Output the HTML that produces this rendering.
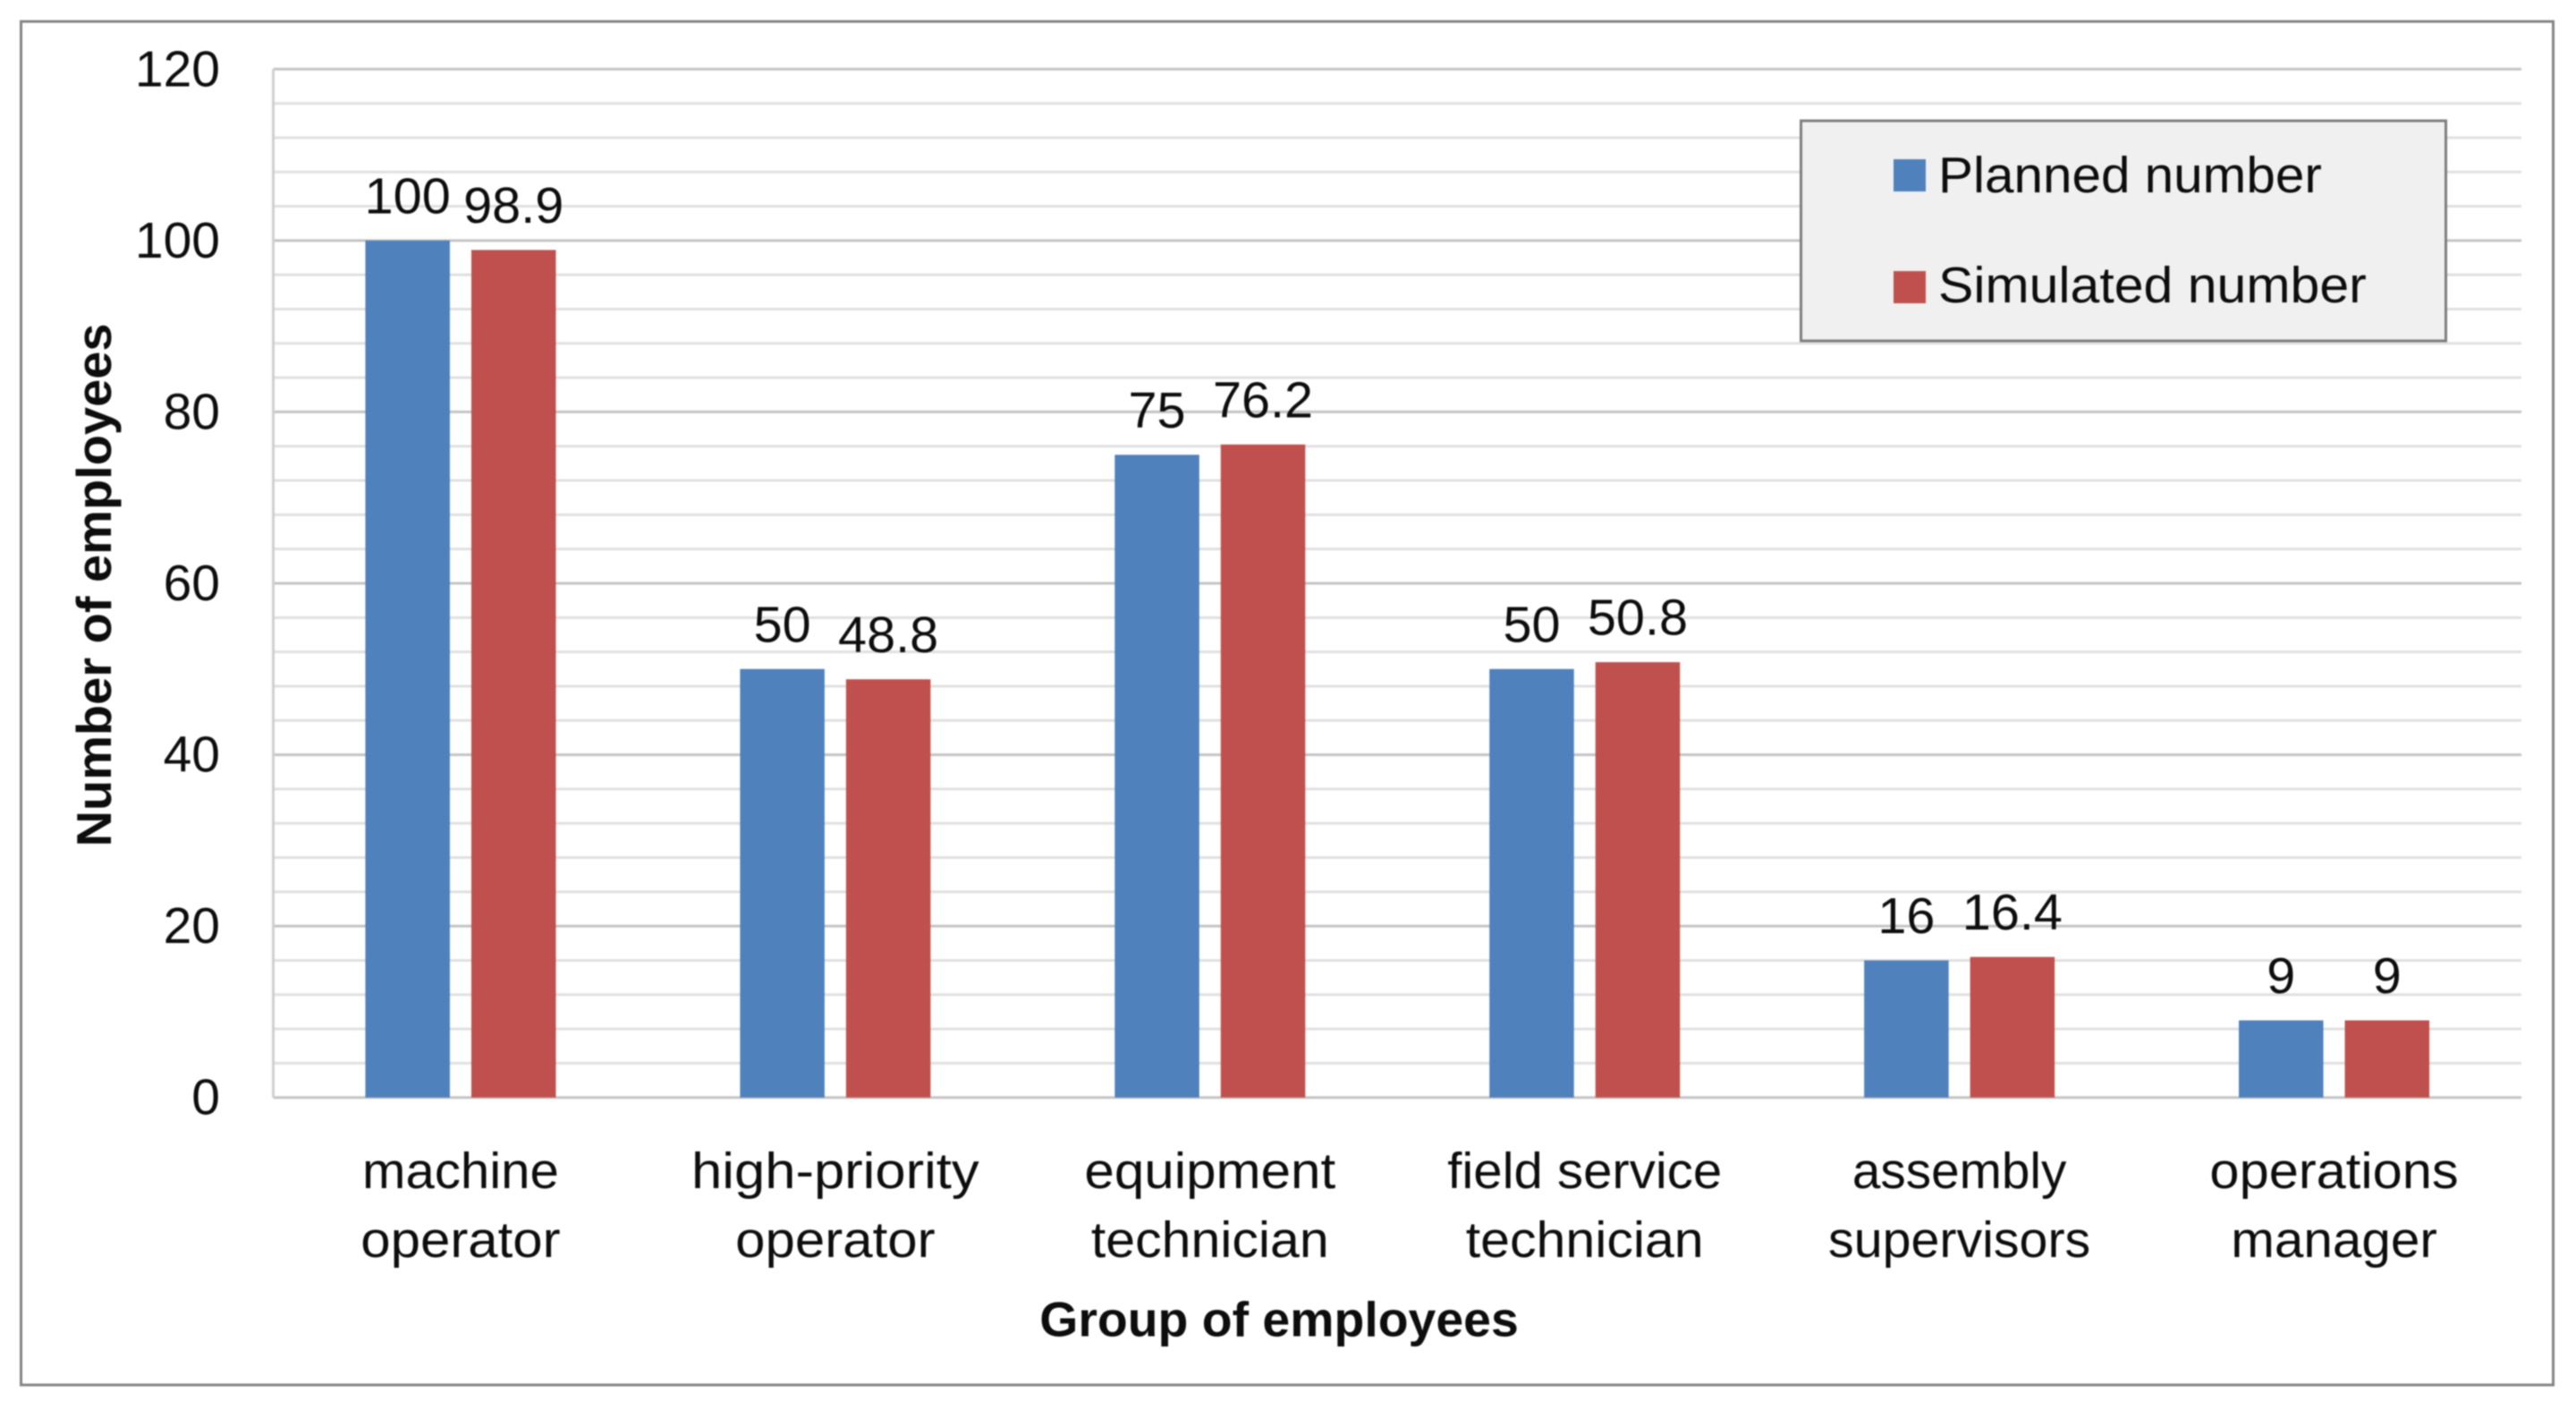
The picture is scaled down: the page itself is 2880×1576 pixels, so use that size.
<!DOCTYPE html>
<html lang="en">
<head>
<meta charset="utf-8">
<title>Planned and simulated number of employees</title>
<style>
html,body{margin:0;padding:0;background:#fff;width:2880px;height:1576px;overflow:hidden}
svg{display:block;filter:blur(0.9px)}
text{font-family:"Liberation Sans",sans-serif;fill:#0d0d0d}
</style>
</head>
<body>
<svg id="chart" xmlns="http://www.w3.org/2000/svg" width="2880" height="1576" viewBox="0 0 2880 1576">
  <rect x="23.5" y="24" width="2831" height="1524" fill="#fff" stroke="#858585" stroke-width="3"/>
</svg>
<script>
const categories = [["machine","operator"],["high-priority","operator"],["equipment","technician"],["field service","technician"],["assembly","supervisors"],["operations","manager"]];
const seriesNames = ["Planned number","Simulated number"];
const planned = [100,50,75,50,16,9];
const simulated = [98.9,48.8,76.2,50.8,16.4,9];
const yTicks = [0,20,40,60,80,100,120];
const yMinorTicks = [4,8,12,16,24,28,32,36,44,48,52,56,64,68,72,76,84,88,92,96,104,108,112,116];
const yMax = 120;

const svg = document.getElementById('chart');
const NS = 'http://www.w3.org/2000/svg';
const plotL = 305.5, plotR = 2819, plotT = 77.3, plotB = 1226.7;
const fs = 57;
const colors = ['#4f81bd','#c0504d'];
const labelStretch = {"machine":1.02,"operator":1.052,"high-priority":1.08,"equipment":1.055,"technician":1.036,"field service":1.02,"assembly":0.995,"supervisors":1.006,"operations":1.045,"manager":1.025};
const yScale = v => plotB - (v / yMax) * (plotB - plotT);
const bandW = (plotR - plotL) / categories.length;
const xCenter = i => plotL + bandW * (i + 0.5);

function make(tag, attrs, content) {
  const el = document.createElementNS(NS, tag);
  for (const k in attrs) el.setAttribute(k, attrs[k]);
  if (content !== undefined) el.textContent = content;
  svg.appendChild(el);
  return el;
}
function fit(el, factor) {
  el.setAttribute('textLength', (el.getComputedTextLength() * factor).toFixed(1));
  el.setAttribute('lengthAdjust', 'spacingAndGlyphs');
}

yMinorTicks.forEach(v => {
  const g = make('line', {x1: plotL, x2: plotR, y1: yScale(v), y2: yScale(v), stroke: '#e0e0e0', 'stroke-width': 3});
  
  
});
yTicks.forEach(v => {
  const g = make('line', {x1: plotL, x2: plotR, y1: yScale(v), y2: yScale(v), stroke: '#c4c4c4', 'stroke-width': 3});
  
  
  const t = make('text', {x: 246, y: yScale(v) + 19, 'text-anchor': 'end', 'font-size': fs}, String(v));
  
  
  fit(t, 1.0);
});
const yAxis = make('line', {x1: plotL, x2: plotL, y1: plotT, y2: plotB, stroke: '#cfcfcf', 'stroke-width': 3});



const barW = 94.5, barOffset = 12;
[planned, simulated].forEach((series, s) => {
  series.forEach((v, i) => {
    const x = s === 0 ? xCenter(i) - barOffset - barW : xCenter(i) + barOffset;
    const r = make('rect', {x: x, y: yScale(v), width: barW, height: plotB - yScale(v), fill: colors[s]});
    
    
    const t = make('text', {x: x + barW / 2, y: yScale(v) - 30.5, 'text-anchor': 'middle', 'font-size': fs}, String(v));
    
    
    fit(t, 1.01);
  });
});

categories.forEach((lines, i) => {
  lines.forEach((line, j) => {
    const t = make('text', {x: xCenter(i), y: 1328 + j * 77, 'text-anchor': 'middle', 'font-size': fs}, line);
    
    
    fit(t, labelStretch[line]);
  });
});

const xTitle = make('text', {x: 1430, y: 1493.5, 'text-anchor': 'middle', 'font-size': 55, 'font-weight': 'bold'}, 'Group of employees');


fit(xTitle, 1.007);
const yTitle = make('text', {transform: 'translate(124,654) rotate(-90)', 'text-anchor': 'middle', 'font-size': 55, 'font-weight': 'bold'}, 'Number of employees');


fit(yTitle, 585 / yTitle.getComputedTextLength());

const legendBox = make('rect', {x: 2013.5, y: 135, width: 721, height: 246, fill: '#f0f0f0', stroke: '#7f7f7f', 'stroke-width': 3});


seriesNames.forEach((name, s) => {
  const sw = make('rect', {x: 2117, y: 178 + s * 125, width: 36, height: 36, fill: colors[s]});
  
  
  const t = make('text', {x: 2167, y: 215 + s * 123, 'font-size': fs}, name);
  
  
  fit(t, s === 0 ? 1.025 : 1.035);
});
</script>
</body>
</html>
